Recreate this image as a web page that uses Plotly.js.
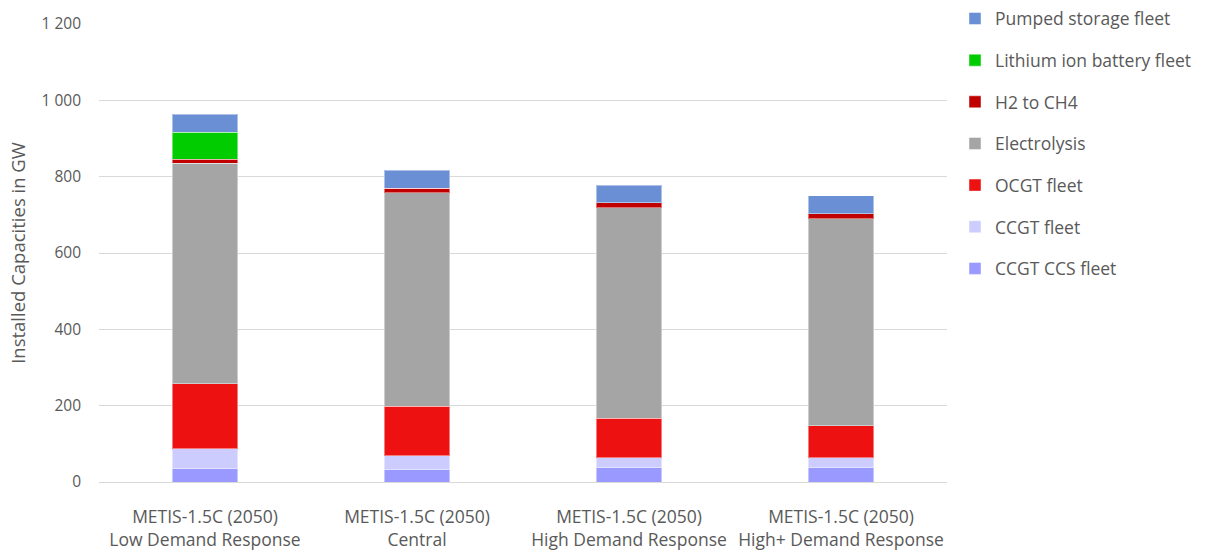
<!DOCTYPE html>
<html>
<head>
<meta charset="utf-8">
<script src="https://cdn.plot.ly/plotly-3.0.1.min.js"></script>
<style>html,body{margin:0;padding:0;background:#fff;}#chart{width:1206px;height:551px;}</style>
</head>
<body>
<div id="chart"></div>
<script>
const categories = [
  "METIS-1.5C (2050)<br>Low Demand Response",
  "METIS-1.5C (2050)<br>Central",
  "METIS-1.5C (2050)<br>High Demand Response",
  "METIS-1.5C (2050)<br>High+ Demand Response"
];
const ccgtCcsFleet      = [35, 34, 37, 37];
const ccgtFleet         = [52, 35, 26, 26];
const ocgtFleet         = [170, 130, 104, 85];
const electrolysis      = [578, 559, 551, 542];
const h2ToCh4           = [10, 12, 14, 13];
const lithiumIonBattery = [71, 0, 0, 0];
const pumpedStorage     = [47, 47, 45, 47];

const seriesNames  = ["CCGT CCS fleet", "CCGT fleet", "OCGT fleet", "Electrolysis", "H2 to CH4", "Lithium ion battery fleet", "Pumped storage fleet"];
const seriesValues = [ccgtCcsFleet, ccgtFleet, ocgtFleet, electrolysis, h2ToCh4, lithiumIonBattery, pumpedStorage];
const seriesColors = ["#9999FF", "#CCCCFF", "#EE1111", "#A5A5A5", "#C00000", "#00CC00", "#6A8FD4"];

const traces = seriesNames.map((n, i) => ({
  type: "bar",
  name: n,
  x: categories,
  y: seriesValues[i],
  legendgroup: "g" + i,
  legendrank: 100 - i,
  marker: {color: seriesColors[i], line: {color: "rgba(255,255,255,0.45)", width: 1}},
  hoverinfo: "name+y"
}));

const fam = "'Open Sans', 'Noto Sans', sans-serif";
const layout = {
  width: 1206, height: 551,
  barmode: "stack",
  bargap: 0.69,
  paper_bgcolor: "#fff", plot_bgcolor: "#fff",
  font: {family: fam, size: 16, color: "#595959"},
  separators: ". ",
  margin: {l: 99, r: 259, t: 24, b: 69, pad: 0, autoexpand: false},
  xaxis: {
    showgrid: false, showline: true, linecolor: "#D9D9D9", linewidth: 1,
    ticks: "", ticklabelstandoff: 19,
    tickfont: {family: fam, size: 17.5, color: "#595959"}, automargin: false
  },
  yaxis: {
    range: [0, 1200], dtick: 200, tick0: 0, separatethousands: true,
    showgrid: true, gridcolor: "#D9D9D9", gridwidth: 1, zeroline: false,
    showline: false, ticks: "", ticklabelstandoff: 17,
    tickfont: {family: fam, size: 15.5, color: "#595959"},
    title: {text: "Installed Capacities in GW", font: {family: fam, size: 18.5, color: "#595959"}, standoff: 11},
    automargin: false
  },
  legend: {
    x: (955 - 99) / 848, y: 1.051, xanchor: "left", yanchor: "top",
    traceorder: "grouped", tracegroupgap: 15.9, maxheight: 1000,
    font: {family: fam, size: 17.5, color: "#595959"}, itemwidth: 30, bgcolor: "rgba(0,0,0,0)"
  },
  showlegend: true
};
Plotly.newPlot("chart", traces, layout, {displayModeBar: false, staticPlot: true});
</script>
</body>
</html>
